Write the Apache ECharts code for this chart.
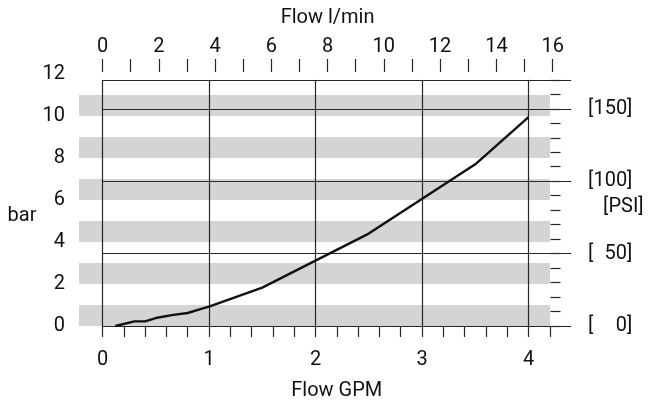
<!DOCTYPE html>
<html><head><meta charset="utf-8">
<script src="https://cdn.jsdelivr.net/npm/echarts@6/dist/echarts.min.js"></script>
<style>html,body{margin:0;padding:0;background:#fff}#c{width:653px;height:402px}</style>
</head><body><div id="c"></div>
<script>
// ---- data ----
const flowGPM     = [0.12, 0.30, 0.40, 0.50, 0.65, 0.80, 0.92, 1.00, 1.50, 2.50, 3.50, 4.00];
const pressureBar = [0.00, 0.22, 0.22, 0.38, 0.52, 0.62, 0.80, 0.92, 1.83, 4.40, 7.70, 9.95];
const psiLabelValues = [0, 50, 100, 150];
const lpmLabelValues = [0, 2, 4, 6, 8, 10, 12, 14, 16];
const gpmLabelValues = [0, 1, 2, 3, 4];
const barLabelValues = [0, 2, 4, 6, 8, 10, 12];

// ---- unit conversions / layout ----
const PSI_PER_BAR = 14.5038, LPM_PER_GPM = 3.78541;
const X0 = 102.5, PX_GPM = 106.5, Y0 = 326, PX_BAR = 21;
const BAR_MAX = 12, GPM_MAX = 4, GPM_FRAME_MAX = 4.4, GPM_TICK_MAX = 4.2, LPM_MAX = 16, PSI_FRAME_MAX = 170;
const plotTop = Y0 - BAR_MAX * PX_BAR;
const frameTop = Y0 - PSI_FRAME_MAX / PSI_PER_BAR * PX_BAR;
const BOTTOM = 402 - Y0;
const FONT = 'Roboto, "Liberation Sans", sans-serif';
const TXT = '#111';
const LINE = '#262626';
const LW = 1.2;
const DIGIT_W = 11.2;
const txt = {fontFamily: FONT, fontSize: 20, color: TXT};
const noLine = {show: false}, noTick = {show: false}, noSplit = {show: false}, noLabel = {show: false};
const gridBase = {outerBoundsMode: 'none', containLabel: false};

function psiLabel(v) {
  if (!psiLabelValues.includes(v)) return '';
  const s = String(v);
  const pad = 3 - s.length;
  return '{b|[}' + (pad > 0 ? '{p' + pad + '|\u00a0}' : '') + '{b|' + s + ']}';
}

const chart = echarts.init(document.getElementById('c'), null, {renderer: 'canvas'});
chart.setOption({
  animation: false,
  backgroundColor: '#fff',
  grid: [
    Object.assign({left: 79, width: 471, top: plotTop, bottom: BOTTOM}, gridBase),                         // 0 bands
    Object.assign({left: X0, width: GPM_MAX * PX_GPM, top: plotTop, bottom: BOTTOM}, gridBase),            // 1 data
    Object.assign({left: X0, width: GPM_FRAME_MAX * PX_GPM, top: frameTop, bottom: BOTTOM}, gridBase),     // 2 frame / psi
    Object.assign({left: X0, width: GPM_MAX * PX_GPM, top: frameTop, bottom: BOTTOM}, gridBase),           // 3 verticals
    Object.assign({left: X0, width: GPM_TICK_MAX * PX_GPM, top: frameTop, bottom: BOTTOM}, gridBase),      // 4 bottom ticks
    Object.assign({left: 550.5, width: 10, top: frameTop, bottom: BOTTOM}, gridBase),                      // 5 right ticks
    Object.assign({left: X0, width: LPM_MAX / LPM_PER_GPM * PX_GPM, top: 72, bottom: BOTTOM}, gridBase),   // 6 l/min
    Object.assign({left: X0, width: GPM_FRAME_MAX * PX_GPM, top: 106, bottom: BOTTOM}, gridBase),          // 7 "bar" name
    Object.assign({left: X0, width: GPM_FRAME_MAX * PX_GPM, top: 88, bottom: BOTTOM}, gridBase)            // 8 "[PSI]" name
  ],
  xAxis: [
    {gridIndex: 0, type: 'value', min: 0, max: 1, show: false},
    {gridIndex: 1, type: 'value', min: 0, max: GPM_MAX, interval: 1,
      axisLine: noLine, axisTick: noTick, splitLine: noSplit,
      axisLabel: Object.assign({margin: 24, formatter: v => gpmLabelValues.includes(v) ? String(v) : ''}, txt)},
    {gridIndex: 2, type: 'value', min: 0, max: GPM_FRAME_MAX,
      axisLine: noLine, axisTick: noTick, axisLabel: noLabel, splitLine: noSplit,
      name: 'Flow GPM', nameLocation: 'middle', nameGap: 55, nameMoveOverlap: false, nameTextStyle: txt},
    {gridIndex: 3, type: 'value', min: 0, max: GPM_MAX, interval: 1,
      axisLine: noLine, axisTick: noTick, axisLabel: noLabel,
      splitLine: {show: true, lineStyle: {color: LINE, width: LW}}},
    {gridIndex: 4, type: 'value', min: 0, max: GPM_TICK_MAX, interval: 0.2,
      axisLine: noLine, axisLabel: noLabel, splitLine: noSplit,
      axisTick: {show: true, length: 11, lineStyle: {color: LINE, width: LW}}},
    {gridIndex: 5, type: 'value', min: 0, max: 1, show: false},
    {gridIndex: 6, type: 'value', position: 'top', min: 0, max: LPM_MAX, interval: 1,
      axisLine: {show: false, onZero: false}, splitLine: noSplit,
      axisTick: {show: true, length: 13, lineStyle: {color: LINE, width: LW}},
      axisLabel: Object.assign({margin: 15, formatter: v => lpmLabelValues.includes(v) ? String(v) : ''}, txt),
      name: 'Flow l/min', nameLocation: 'middle', nameGap: 44, nameMoveOverlap: false, nameTextStyle: txt},
    {gridIndex: 7, type: 'value', min: 0, max: 1, show: false},
    {gridIndex: 8, type: 'value', min: 0, max: 1, show: false}
  ],
  yAxis: [
    {gridIndex: 0, type: 'value', min: 0, max: BAR_MAX, interval: 1,
      axisLine: noLine, axisTick: noTick, axisLabel: noLabel, splitLine: noSplit,
      splitArea: {show: true, areaStyle: {color: ['#d3d4d6', 'rgba(255,255,255,0)']}}},
    {gridIndex: 1, type: 'value', min: 0, max: BAR_MAX, interval: 2,
      axisLine: noLine, axisTick: noTick, splitLine: noSplit,
      axisLabel: Object.assign({margin: 37.5, formatter: v => barLabelValues.includes(v) ? String(v) : ''}, txt)},
    {gridIndex: 2, type: 'value', position: 'right', min: 0, max: PSI_FRAME_MAX, interval: 50,
      axisLine: noLine, axisTick: noTick,
      splitLine: {show: true, lineStyle: {color: LINE, width: LW}},
      axisLabel: {margin: 17, showMaxLabel: false, formatter: psiLabel,
        rich: {b: txt, p1: Object.assign({width: DIGIT_W}, txt), p2: Object.assign({width: 2 * DIGIT_W}, txt)}}},
    {gridIndex: 3, type: 'value', min: 0, max: PSI_FRAME_MAX, show: false},
    {gridIndex: 4, type: 'value', min: 0, max: PSI_FRAME_MAX, show: false},
    {gridIndex: 5, type: 'value', position: 'left', min: 0, max: PSI_FRAME_MAX, interval: 10,
      axisLine: noLine, axisLabel: noLabel, splitLine: noSplit,
      axisTick: {show: true, inside: true, length: 10, lineStyle: {color: LINE, width: LW}}},
    {gridIndex: 6, type: 'value', min: 0, max: BAR_MAX, show: false},
    {gridIndex: 7, type: 'value', min: 0, max: 1, position: 'left',
      axisLine: noLine, axisTick: noTick, axisLabel: noLabel, splitLine: noSplit,
      name: 'bar', nameLocation: 'middle', nameRotate: 0, nameGap: 66, nameMoveOverlap: false, nameTextStyle: txt},
    {gridIndex: 8, type: 'value', min: 0, max: 1, position: 'right',
      axisLine: noLine, axisTick: noTick, axisLabel: noLabel, splitLine: noSplit,
      name: '[PSI]', nameLocation: 'middle', nameRotate: 0, nameGap: 32, nameMoveOverlap: false, nameTextStyle: txt}
  ],
  series: [{
    type: 'line', xAxisIndex: 1, yAxisIndex: 1,
    data: flowGPM.map((x, i) => [x, pressureBar[i]]),
    symbol: 'none', showSymbol: false, clip: false, z: 5,
    lineStyle: {color: '#111', width: 2.4}
  }]
});
</script></body></html>
